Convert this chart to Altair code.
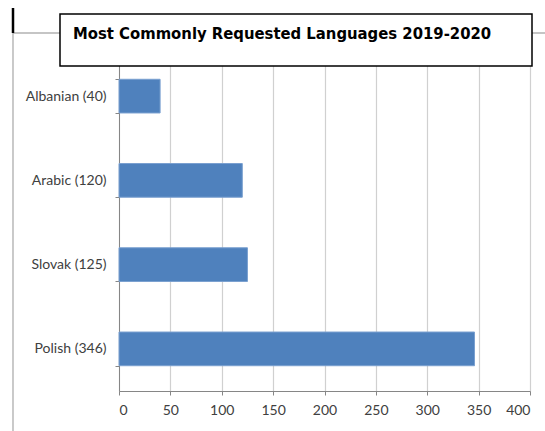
import altair as alt
import pandas as pd

languages = ["Albanian (40)", "Arabic (120)", "Slovak (125)", "Polish (346)"]
requests = [40, 120, 125, 346]
x_ticks = [0, 50, 100, 150, 200, 250, 300, 350, 400]
title_text = "Most Commonly Requested Languages 2019-2020"

df = pd.DataFrame({"language": languages, "requests": requests})
one = pd.DataFrame({"k": [0]})

LABEL_FONT = "Lato"
TITLE_FONT = "DejaVu Sans Condensed"

bars = alt.Chart(df).mark_bar(
    color="#4f81bd", stroke="#7aa0d0", strokeWidth=1
).encode(
    x=alt.X("requests:Q",
            scale=alt.Scale(domain=[0, 400], nice=False),
            axis=alt.Axis(values=x_ticks, title=None, grid=True,
                          gridColor="#d0d0d0", gridWidth=1.2,
                          domainColor="#868686", tickColor="#868686",
                          tickSize=4, labelPadding=8,
                          labelFont=LABEL_FONT, labelFontSize=14,
                          labelColor="#404040")),
    y=alt.Y("language:N", sort=languages,
            scale=alt.Scale(paddingInner=0.6, paddingOuter=0.3),
            axis=alt.Axis(title=None, tickBand="extent",
                          domainColor="#868686", tickColor="#868686",
                          tickSize=4, labelPadding=9,
                          labelFont=LABEL_FONT, labelFontSize=14,
                          labelColor="#404040")),
)

frame_top = alt.Chart(one).mark_rule(color="#8c8c8c", strokeWidth=1.2).encode(
    x=alt.value(-106), x2=alt.value(426), y=alt.value(-21))
frame_left = alt.Chart(one).mark_rule(color="#a6a6a6", strokeWidth=1.2).encode(
    x=alt.value(-106), y=alt.value(-21), y2=alt.value(377))
frame_black = alt.Chart(one).mark_rule(color="#000000", strokeWidth=2.5).encode(
    x=alt.value(-106), y=alt.value(-46), y2=alt.value(-21))

title_box = alt.Chart(one).mark_rect(
    fill="white", stroke="#000000", strokeWidth=1.5
).encode(x=alt.value(-59), x2=alt.value(413), y=alt.value(-40), y2=alt.value(12))

title = alt.Chart(one).mark_text(
    align="left", baseline="alphabetic", font=TITLE_FONT,
    fontSize=16.5, fontWeight="bold", color="#000000"
).encode(x=alt.value(-46), y=alt.value(-15), text=alt.value(title_text))

chart = alt.layer(bars, frame_top, frame_left, frame_black, title_box, title).properties(
    width=411, height=337,
    autosize=alt.AutoSizeParams(type="none"),
    padding={"left": 119, "top": 54, "right": 15, "bottom": 40},
).configure_view(stroke=None).configure(background="white")

chart.save("out.html", embed_options={"renderer": "svg", "actions": False})
